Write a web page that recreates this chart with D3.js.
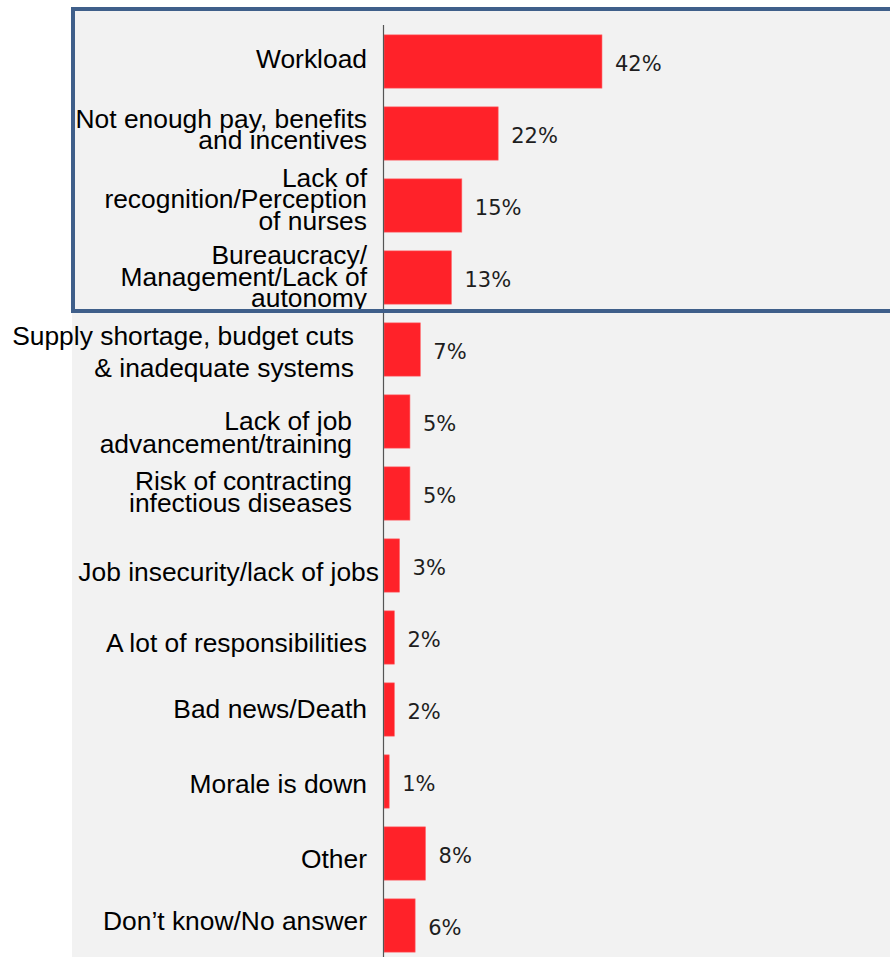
<!DOCTYPE html>
<html>
<head>
<meta charset="utf-8">
<script src="https://cdn.jsdelivr.net/npm/d3@7"></script>
<style>
  html, body { margin: 0; padding: 0; background: #fff; }
  svg { display: block; }
</style>
</head>
<body>
<svg id="chart"></svg>
<script>
// categories (line breaks as in the original labels)
const categories = [
  ['Workload'],
  ['Not enough pay, benefits', 'and incentives'],
  ['Lack of', 'recognition/Perception', 'of nurses'],
  ['Bureaucracy/', 'Management/Lack of', 'autonomy'],
  ['Supply shortage, budget cuts', '& inadequate systems'],
  ['Lack of job', 'advancement/training'],
  ['Risk of contracting', 'infectious diseases'],
  ['Job insecurity/lack of jobs'],
  ['A lot of responsibilities'],
  ['Bad news/Death'],
  ['Morale is down'],
  ['Other'],
  ['Don\u2019t know/No answer']
]
const values = [42, 22, 15, 13, 7, 5, 5, 3, 2, 2, 1, 8, 6]

// label layout (right edge, first baseline offset from bar centre, line spacing)
const labelRight = [367, 367, 367, 367, 354, 352, 352, 379, 367, 367, 367, 367, 367]
const labelShift = [6, -5.5, -18.7, -13.7, -4.5, 8, -4, 15.7, 14.7, 8.3, 11.2, 14.8, 4.5]
const labelLead  = [0, 20.5, 21.5, 21.7, 32, 23, 22.7, 0, 0, 0, 0, 0, 0]

const width = 890
const height = 957

const svg = d3.select('#chart')
  .attr('width', width)
  .attr('height', height)

// grey plot area
svg.append('rect')
  .attr('x', 72)
  .attr('y', 9)
  .attr('width', width - 72)
  .attr('height', height - 9)
  .style('fill', '#f2f2f2')

const x = d3.scaleLinear()
  .domain([0, 100])
  .range([384, 903])

const y = d3.scaleBand()
  .domain(d3.range(categories.length))
  .range([25.5, 25.5 + 72 * categories.length])
  .paddingInner(0.26)
  .paddingOuter(0.13)

// bars
svg.selectAll('.bar')
  .data(values)
  .enter()
  .append('rect')
  .attr('class', 'bar')
  .attr('x', x(0))
  .attr('y', (d, i) => y(i))
  .attr('width', d => x(d) - x(0))
  .attr('height', y.bandwidth())
  .style('fill', '#ff2229')
  .style('stroke', '#ff6a6e')
  .style('stroke-width', 0.6)

// value labels
svg.selectAll('.val')
  .data(values)
  .enter()
  .append('text')
  .attr('class', 'val')
  .attr('x', d => x(d) + 13)
  .attr('y', (d, i) => y(i) + y.bandwidth() / 2 + 2)
  .attr('dominant-baseline', 'central')
  .style('font-family', '"DejaVu Sans", Verdana, sans-serif')
  .style('font-size', '21px')
  .style('fill', '#1e1e1e')
  .text(d => d + '%')

// vertical axis line
svg.append('line')
  .attr('x1', 383.5)
  .attr('x2', 383.5)
  .attr('y1', 25)
  .attr('y2', height)
  .style('stroke', '#555')
  .style('stroke-width', 1.2)

// category labels
const labels = svg.selectAll('.cat')
  .data(categories)
  .enter()
  .append('text')
  .attr('class', 'cat')
  .attr('text-anchor', 'end')
  .style('font-family', '"Liberation Sans", Arial, sans-serif')
  .style('font-size', '26.4px')
  .style('fill', '#000')

labels.each(function (lines, i) {
  const cy = y(i) + y.bandwidth() / 2 + labelShift[i]
  d3.select(this).selectAll('tspan')
    .data(lines)
    .enter()
    .append('tspan')
    .attr('x', labelRight[i])
    .attr('y', (l, k) => cy + k * labelLead[i])
    .text(l => l)
})

// blue highlight box around the top four items
svg.append('rect')
  .attr('x', 73)
  .attr('y', 9)
  .attr('width', 840)
  .attr('height', 302)
  .style('fill', 'none')
  .style('stroke', '#3f5f8a')
  .style('stroke-width', 4)
</script>
</body>
</html>
